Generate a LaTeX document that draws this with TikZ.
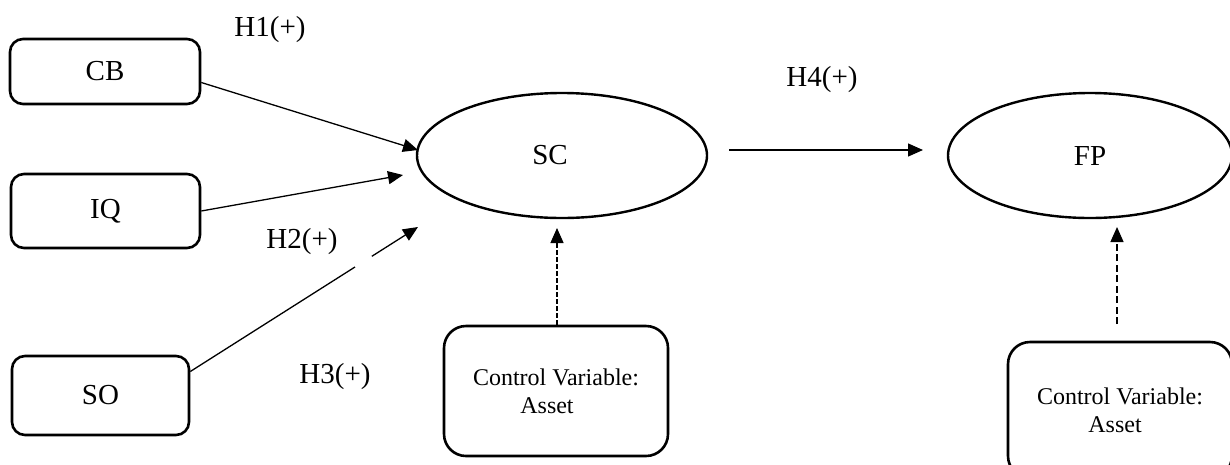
\documentclass[tikz,border=0pt]{standalone}
\usepackage{fontspec}
\setmainfont{Liberation Serif}
\usetikzlibrary{arrows.meta,shapes.geometric}
\begin{document}
\begin{tikzpicture}[x=1pt,y=-1pt,
  box/.style={draw,line width=2.6pt,rounded corners=13pt,inner sep=0pt,font=\fontsize{29}{31}\selectfont},
  cbox/.style={draw,line width=2.6pt,rounded corners=22pt,inner sep=0pt,align=center,font=\fontsize{24}{28}\selectfont},
  oval/.style={draw,ellipse,line width=2.4pt,inner sep=0pt,font=\fontsize{29}{31}\selectfont},
  hlabel/.style={inner sep=0pt,font=\fontsize{29}{31}\selectfont},
  conn/.style={line width=1.3pt,-{Triangle[length=15pt,width=13pt]}},
  dconn/.style={conn,dash pattern=on 6pt off 3pt}]
\useasboundingbox (0,0) rectangle (1230,464);
% boxes
\node[box,minimum width=190pt,minimum height=65pt] (cb) at (105,71.5) {CB};
\node[box,minimum width=189pt,minimum height=74pt] (iq) at (105.5,211) {IQ};
\node[box,minimum width=177pt,minimum height=79pt] (so) at (100.5,395.5) {SO};
\node[oval,minimum width=290pt,minimum height=125pt] (sc) at (562,155.5) {\hspace*{-24pt}SC};
\node[oval,minimum width=284pt,minimum height=125pt] (fp) at (1090,155.5) {FP};
\node[cbox,minimum width=224pt,minimum height=130pt] (cv1) at (556,391) {Control Variable:\\Asset\hspace*{18pt}};
\node[cbox,minimum width=224pt,minimum height=136pt] (cv2) at (1120,410) {Control Variable:\\Asset\hspace*{10pt}};
% labels
\node[hlabel] (h1) at (270,30) {H1(+)};
\node[hlabel] (h2) at (302,242) {H2(+)};
\node[hlabel] (h3) at (335,377) {H3(+)};
\node[hlabel] (h4) at (822,80) {H4(+)};
% connector ends
\coordinate (tcb) at (418,150);
\coordinate (tiq) at (403,175);
\coordinate (tso) at (418,227);
\coordinate (a4s) at (729,150);
\coordinate (a4e) at (923,150);
\coordinate (t1) at (557,228);
\coordinate (t2) at (1117,227);
\coordinate (s2) at (1117,324);
% connectors
\draw[conn] ([yshift=-11pt]cb.east) -- (tcb);
\draw[conn] (iq.east) -- (tiq);
\draw[conn,dash pattern=on 195pt off 20pt on 200pt] ([yshift=24pt]so.east) -- (tso);
\draw[conn] (a4s) -- (a4e);
\draw[dconn,dash pattern=on 5pt off 2pt] (t1 |- cv1.north) -- (t1);
\draw[dconn,dash pattern=on 7pt off 3.5pt] (s2) -- (t2);
\end{tikzpicture}
\end{document}
